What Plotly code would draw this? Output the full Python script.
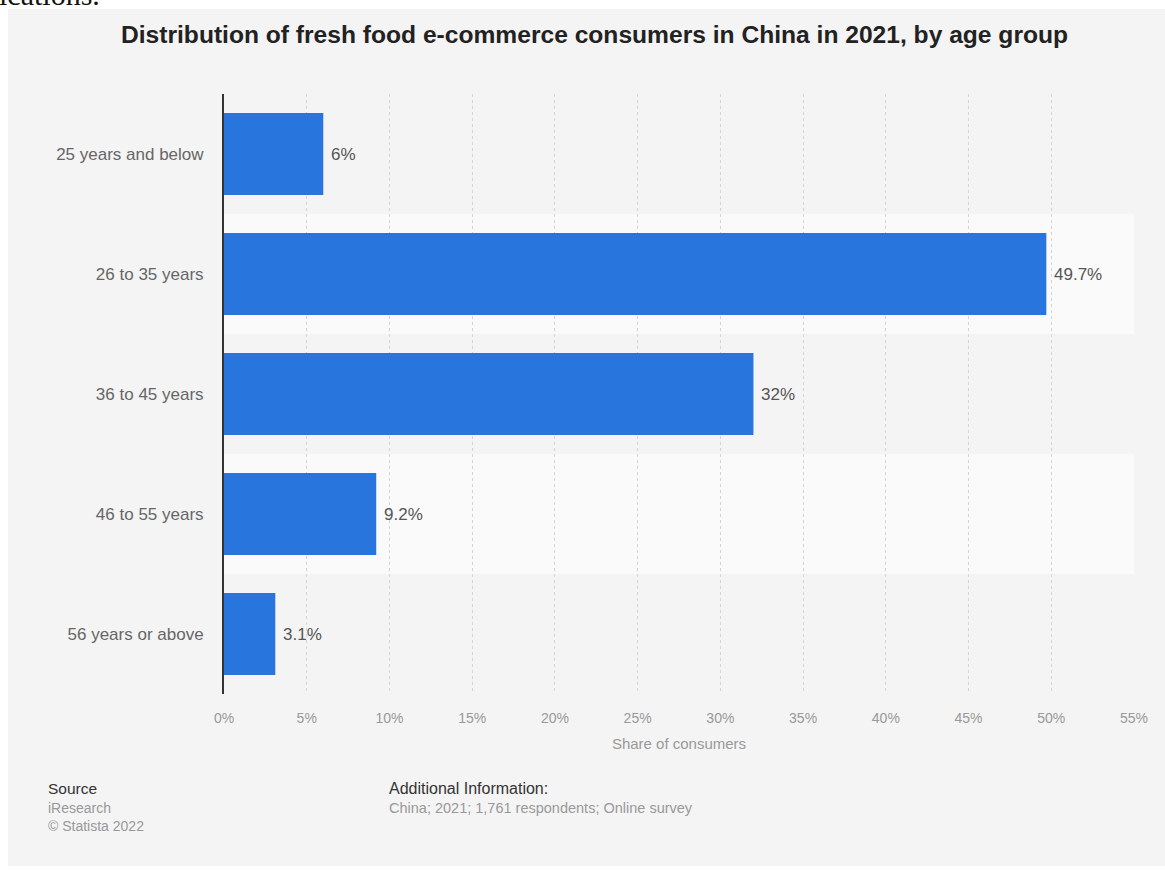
import plotly.graph_objects as go

categories = ["25 years and below", "26 to 35 years", "36 to 45 years", "46 to 55 years", "56 years or above"]
shares = [6, 49.7, 32, 9.2, 3.1]
value_labels = ["6%", "49.7%", "32%", "9.2%", "3.1%"]
x_ticks = [0, 5, 10, 15, 20, 25, 30, 35, 40, 45, 50, 55]
x_tick_labels = [f"{t}%" for t in x_ticks]

W, H = 1165, 870
L, R, T, B = 224, 1134, 94, 694
PW, PH = R - L, B - T

def px(xp):
    return (xp - L) / PW

def py(yp):
    return (B - yp) / PH

FONT = "Liberation Sans, Arial, sans-serif"

fig = go.Figure()
fig.add_trace(go.Bar(
    y=categories, x=shares, orientation="h",
    marker=dict(color="#2876dd", line=dict(width=0)),
    hoverinfo="skip",
))

shapes = [
    dict(type="rect", xref="paper", yref="paper", x0=px(8), x1=px(1170), y0=py(866), y1=py(9),
         fillcolor="#f4f4f4", line=dict(width=0), layer="below"),
]
for i in range(len(categories)):
    if i % 2 == 1:
        shapes.append(dict(type="rect", xref="paper", yref="y", x0=0, x1=1, y0=i - 0.5, y1=i + 0.5,
                           fillcolor="#fafafa", line=dict(width=0), layer="below"))

annotations = []
for c, v, lab in zip(categories, shares, value_labels):
    annotations.append(dict(x=v, y=c, xref="x", yref="y", text=lab, showarrow=False,
                            xanchor="left", xshift=6, font=dict(family=FONT, size=17, color="#555555")))

annotations += [
    dict(x=px(594), y=py(35), xref="paper", yref="paper", text="<b>Distribution of fresh food e-commerce consumers in China in 2021, by age group</b>",
         showarrow=False, xanchor="center", yanchor="middle", font=dict(family=FONT, size=24.6, color="#222222")),
    dict(x=px(-3), y=py(13), xref="paper", yref="paper", text="ications.", showarrow=False,
         xanchor="left", yanchor="bottom", font=dict(family="Liberation Serif, serif", size=30, color="#111111")),
    dict(x=px(46), y=py(789), xref="paper", yref="paper", text="Source", showarrow=False,
         xanchor="left", yanchor="middle", font=dict(family=FONT, size=15.5, color="#333333")),
    dict(x=px(46), y=py(808), xref="paper", yref="paper", text="iResearch", showarrow=False,
         xanchor="left", yanchor="middle", font=dict(family=FONT, size=14, color="#999999")),
    dict(x=px(46), y=py(826), xref="paper", yref="paper", text="© Statista 2022", showarrow=False,
         xanchor="left", yanchor="middle", font=dict(family=FONT, size=14, color="#999999")),
    dict(x=px(387), y=py(789), xref="paper", yref="paper", text="Additional Information:", showarrow=False,
         xanchor="left", yanchor="middle", font=dict(family=FONT, size=16, color="#333333")),
    dict(x=px(387), y=py(808), xref="paper", yref="paper", text="China; 2021; 1,761 respondents; Online survey", showarrow=False,
         xanchor="left", yanchor="middle", font=dict(family=FONT, size=14.5, color="#999999")),
]

fig.update_layout(
    width=W, height=H, autosize=False,
    margin=dict(l=L, r=W - R, t=T, b=H - B, pad=0),
    paper_bgcolor="white", plot_bgcolor="rgba(0,0,0,0)",
    showlegend=False, bargap=0.317,
    shapes=shapes, annotations=annotations,
    font=dict(family=FONT),
)
fig.update_xaxes(
    range=[0, 55], tickvals=x_ticks, ticktext=x_tick_labels,
    showgrid=True, gridcolor="#d4d4d4", griddash="dot", gridwidth=1,
    zeroline=False, showline=False, ticks="", ticklabelstandoff=14,
    tickfont=dict(family=FONT, size=14, color="#999999"),
    title=dict(text="Share of consumers", font=dict(family=FONT, size=15, color="#999999"), standoff=13),
    fixedrange=True,
)
fig.update_yaxes(
    autorange="reversed", showgrid=False, zeroline=False,
    showline=True, linecolor="#333333", linewidth=2, ticks="", ticklabelstandoff=15,
    tickfont=dict(family=FONT, size=17, color="#666666"), fixedrange=True,
)
fig.write_html("out.html")
